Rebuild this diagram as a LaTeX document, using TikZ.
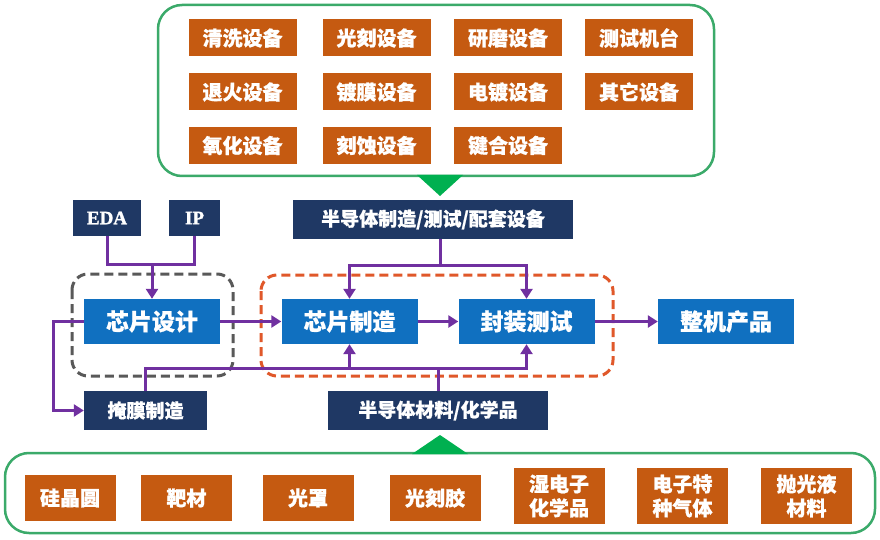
\documentclass[tikz,border=0pt]{standalone}
\usepackage{fontspec}
\setmainfont{Liberation Serif}
\newfontfamily\serifbold{Liberation Serif}[UprightFont={* Bold}, FakeBold=1.5]
\newfontfamily\cjk{Noto Sans CJK SC}[BoldFeatures={FakeBold=0.8}]
\usetikzlibrary{arrows.meta}
\definecolor{navy}{HTML}{1F3864}
\definecolor{cblue}{HTML}{1070C0}
\definecolor{corange}{HTML}{C55A11}
\definecolor{cpurple}{HTML}{7030A0}
\definecolor{cgreen}{HTML}{3BAA6A}
\definecolor{tgreen}{HTML}{00B050}
\definecolor{dgray}{HTML}{595959}
\definecolor{dorange}{HTML}{E0582A}
\tikzset{
  equip/.style={fill=corange, text=white, minimum width=108pt, minimum height=37pt, inner sep=0pt, font=\cjk\bfseries\fontsize{20}{22}\selectfont},
  matl/.style={fill=corange, text=white, minimum width=91pt, minimum height=46pt, inner sep=0pt, align=center, font=\cjk\bfseries\fontsize{20}{24}\selectfont},
  matltwo/.style={matl, minimum height=56pt},
  navybox/.style={fill=navy, text=white, inner sep=0pt, font=\cjk\bfseries\fontsize{19}{22}\selectfont},
  latinbox/.style={fill=navy, text=white, inner sep=0pt, minimum height=36pt, font=\serifbold\fontsize{19}{22}\selectfont},
  stagebox/.style={fill=cblue, text=white, minimum width=136pt, minimum height=45pt, inner sep=0pt, font=\cjk\bfseries\fontsize{23}{26}\selectfont},
  greenframe/.style={draw=cgreen, line width=2.5pt, rounded corners=24pt},
  dashframe/.style={line width=3pt, dash pattern=on 9pt off 5pt, rounded corners=16pt},
  pl/.style={draw=cpurple, line width=3pt},
  pla/.style={pl, -{Triangle[length=10pt,width=12pt]}}
}
\begin{document}
\begin{tikzpicture}[x=1pt,y=-1pt]
\useasboundingbox (0,0) rectangle (880,540);
\fill[white] (0,0) rectangle (880,540);
% frames
\draw[greenframe] (158,5) rectangle (714,176);
\draw[greenframe] (5,453) rectangle (875,533);
\fill[tgreen] (417,175) -- (463,175) -- (440,196) -- cycle;
\fill[tgreen] (412,454) -- (468,454) -- (440,435) -- cycle;
\draw[dashframe, draw=dgray] (72,274) rectangle (233,376);
\draw[dashframe, draw=dorange] (261,275) rectangle (613,376);
% equipment
\node[equip] (e11) at (242.5,38) {清洗设备};
\node[equip] (e12) at (376.5,38) {光刻设备};
\node[equip] (e13) at (508,38) {研磨设备};
\node[equip] (e14) at (639,38) {测试机台};
\node[equip] (e21) at (242.5,92) {退火设备};
\node[equip] (e22) at (376.5,92) {镀膜设备};
\node[equip] (e23) at (508,92) {电镀设备};
\node[equip] (e24) at (639,92) {其它设备};
\node[equip] (e31) at (242.5,145.5) {氧化设备};
\node[equip] (e32) at (376.5,145.5) {刻蚀设备};
\node[equip] (e33) at (508,145.5) {键合设备};
% materials
\node[matl] (m1) at (70,498) {硅晶圆};
\node[matl] (m2) at (186.5,498) {靶材};
\node[matl] (m3) at (308,498) {光罩};
\node[matl] (m4) at (435,498) {光刻胶};
\node[matltwo] (m5) at (559,496) {湿电子\\化学品};
\node[matltwo] (m6) at (682.5,496) {电子特\\种气体};
\node[matltwo] (m7) at (806.5,496) {抛光液\\材料};
% navy boxes
\node[latinbox, minimum width=68pt] (eda) at (107,218) {EDA};
\node[latinbox, minimum width=51pt] (ip) at (194.5,218) {IP};
\node[navybox, minimum width=280pt, minimum height=39pt] (semi) at (433,219.5) {半导体制造/测试/配套设备};
\node[navybox, minimum width=123pt, minimum height=39pt] (mask) at (145.5,410.5) {掩膜制造};
\node[navybox, minimum width=220pt, minimum height=39pt] (mat) at (438,410.5) {半导体材料/化学品};
% stages
\node[stagebox] (design) at (152,321.5) {芯片设计};
\node[stagebox] (fab) at (349.5,321.5) {芯片制造};
\node[stagebox] (pkg) at (526.5,321.5) {封装测试};
\node[stagebox] (prod) at (726,321.5) {整机产品};
% connectors
\coordinate (j1) at (152,264);
\coordinate (j2) at (440,265);
\coordinate (j3) at (145.5,368);
\draw[pl] (eda.south) |- (j1) -| (ip.south);
\draw[pla] (j1) -- (design.north);
\draw[pl] (semi.south -| j2) -- (j2);
\draw[pla] (j2) -| (fab.north);
\draw[pla] (j2) -| (pkg.north);
\draw[pla] (design.east) -- (fab.west);
\draw[pla] (fab.east) -- (pkg.west);
\draw[pla] (pkg.east) -- (prod.west);
\draw[pla] (design.west) -- ++(-30,0) |- (mask.west);
\draw[pla] (mask.north) |- (pkg.south |- j3) -- (pkg.south);
\draw[pla] (fab.south |- j3) -- (fab.south);
\draw[pl] (mat.north) -- (mat.north |- j3);
\end{tikzpicture}
\end{document}
